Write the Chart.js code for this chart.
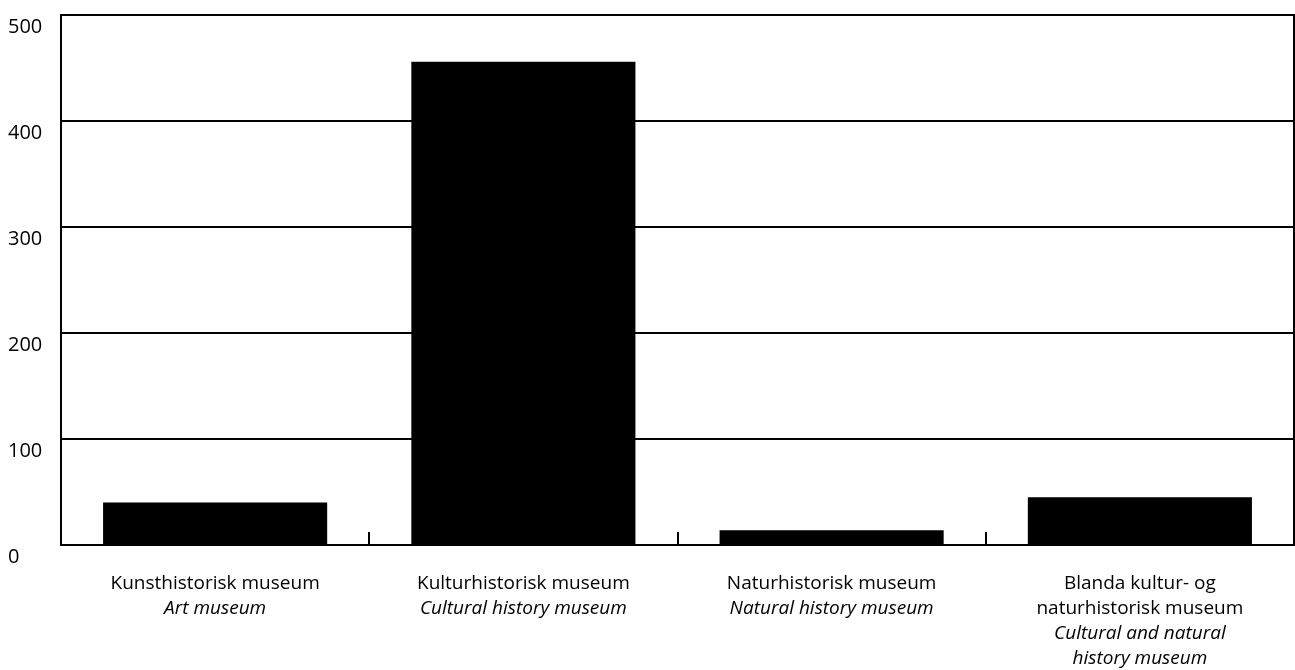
<!DOCTYPE html>
<html>
<head>
<meta charset="utf-8">
<script src="https://cdn.jsdelivr.net/npm/chart.js@4.4.1/dist/chart.umd.min.js"></script>
<style>
    html, body { margin: 0; padding: 0; background: #fff; }
    #wrap { width: 1295px; height: 670px; }
</style>
</head>
<body>
<div id="wrap"><canvas id="museumChart"></canvas></div>
<script>
// Museum types (Norwegian label lines, English italic lines)
const categories = ['Kunsthistorisk', 'Kulturhistorisk', 'Naturhistorisk', 'Blanda'];
const labelsNo = [
    ['Kunsthistorisk museum'],
    ['Kulturhistorisk museum'],
    ['Naturhistorisk museum'],
    ['Blanda kultur- og', 'naturhistorisk museum']
];
const labelsEn = [
    ['Art museum'],
    ['Cultural history museum'],
    ['Natural history museum'],
    ['Cultural and natural', 'history museum']
];
const museumCounts = [40, 456, 14, 45];
const yTicks = [0, 100, 200, 300, 400, 500];

const FONT = '"Open Sans", "Noto Sans", sans-serif';

// Frame, small ticks between categories and two-style category labels
const decorPlugin = {
    id: 'decor',
    afterDraw(chart) {
        const ctx = chart.ctx;
        const area = chart.chartArea;
        const x = chart.scales.x;
        ctx.save();
        ctx.strokeStyle = '#000';
        ctx.lineWidth = 2;
        ctx.strokeRect(area.left, area.top, area.right - area.left, area.bottom - area.top);

        // separators between categories
        for (let i = 0; i < categories.length - 1; i++) {
            const px = Math.round((x.getPixelForValue(i) + x.getPixelForValue(i + 1)) / 2);
            ctx.beginPath();
            ctx.moveTo(px, area.bottom);
            ctx.lineTo(px, area.bottom - 13);
            ctx.stroke();
        }

        // category labels
        ctx.fillStyle = '#000';
        ctx.textAlign = 'center';
        ctx.textBaseline = 'middle';
        const lineH = 25;
        const firstY = area.bottom + 39;
        categories.forEach((c, i) => {
            const cx = x.getPixelForValue(i);
            let row = 0;
            ctx.font = '19px ' + FONT;
            labelsNo[i].forEach(line => {
                ctx.fillText(line, cx, firstY + row * lineH);
                row++;
            });
            ctx.font = 'italic 19px ' + FONT;
            labelsEn[i].forEach(line => {
                ctx.fillText(line, cx, firstY + row * lineH);
                row++;
            });
        });
        ctx.restore();
    }
};

new Chart(document.getElementById('museumChart'), {
    type: 'bar',
    data: {
        labels: categories,
        datasets: [{
            data: museumCounts,
            backgroundColor: '#000',
            borderWidth: 0,
            barPercentage: 0.727,
            categoryPercentage: 1
        }]
    },
    options: {
        responsive: true,
        maintainAspectRatio: false,
        animation: false,
        layout: { padding: { left: 8, right: 1, top: 14, bottom: 0 } },
        plugins: {
            legend: { display: false },
            tooltip: { enabled: false }
        },
        scales: {
            x: {
                grid: { display: false },
                border: { display: false },
                ticks: { display: false },
                afterFit(scale) { scale.height = 125; }
            },
            y: {
                min: 0,
                max: 500,
                afterBuildTicks(scale) { scale.ticks = yTicks.map(v => ({ value: v })); },
                afterFit(scale) { scale.width = 53; },
                grid: { color: '#000', lineWidth: 2, tickLength: 0 },
                border: { display: false },
                ticks: {
                    crossAlign: 'far',
                    labelOffset: 12,
                    color: '#000',
                    font: { family: FONT, size: 20 }
                }
            }
        }
    },
    plugins: [decorPlugin]
});
</script>
</body>
</html>
